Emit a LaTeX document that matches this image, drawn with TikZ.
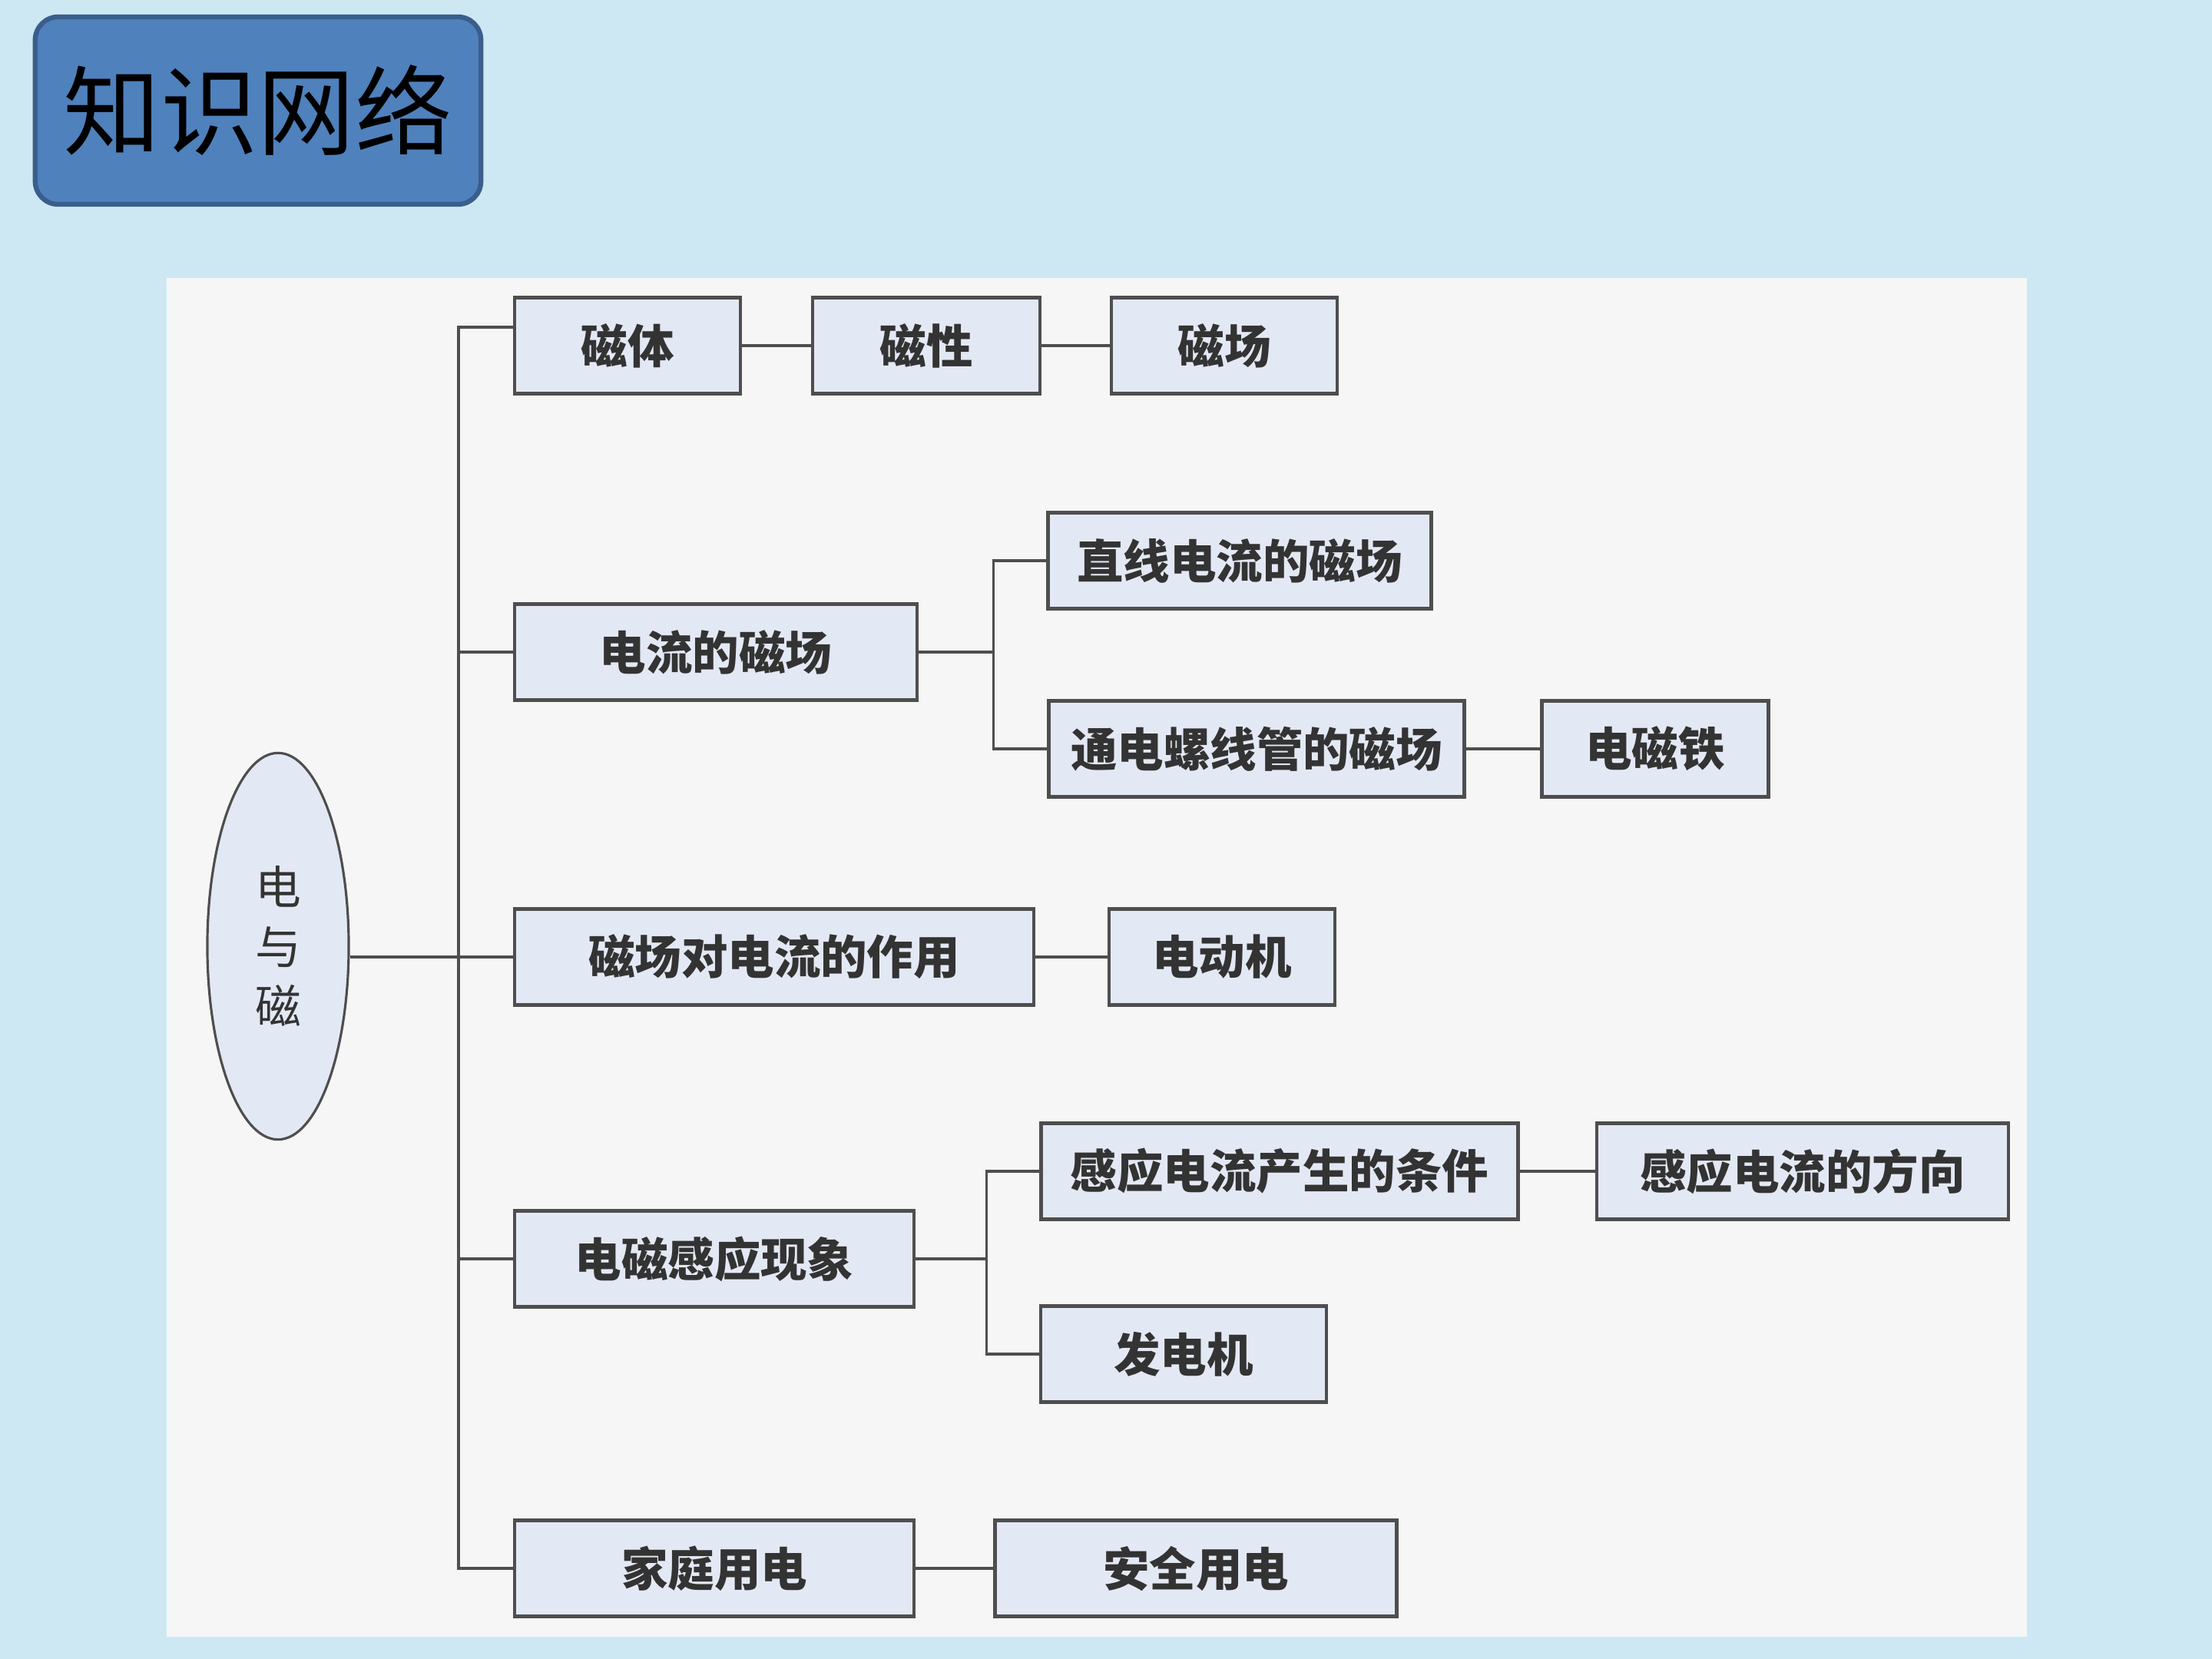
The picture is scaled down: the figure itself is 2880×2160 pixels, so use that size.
\documentclass[tikz,border=0pt]{standalone}
\usepackage{fontspec}
\newfontfamily\cjk{Noto Sans CJK SC}
\usetikzlibrary{shapes.geometric}
\definecolor{bgblue}{HTML}{CDE8F3}
\definecolor{paper}{HTML}{F6F6F6}
\definecolor{titleblue}{HTML}{4F81BD}
\definecolor{titleedge}{HTML}{3A5E8C}
\definecolor{boxfill}{HTML}{E3E9F4}
\definecolor{linegray}{HTML}{4E4E4E}

\tikzset{
  box/.style={draw=linegray, line width=1.3pt, fill=boxfill, minimum height=1.25cm,
    inner sep=0pt, text=black!80, font=\cjk\bfseries\fontsize{17.2}{20}\selectfont},
  link/.style={draw=linegray, line width=0.9pt},
}

\begin{document}
\begin{tikzpicture}[x=0.01cm, y=-0.01cm]
	% background and paper
	\fill[bgblue] (0,0) rectangle (2880,2160);
	\useasboundingbox (0,0) rectangle (2880,2160);
	\fill[paper] (217,362) rectangle (2639,2131);
	% title
	\node[draw=titleedge, line width=1.8pt, fill=titleblue, rounded corners=0.3cm,
		minimum width=5.8cm, minimum height=2.44cm,
		font=\cjk\fontsize{36}{40}\selectfont] (title) at (336,144) {知识网络};
	% root
	\node[ellipse, draw=linegray, line width=0.9pt, fill=boxfill, minimum width=1.84cm,
		minimum height=5.03cm, inner sep=0pt, align=center, text=black!80,
		font=\cjk\fontsize{17}{22}\selectfont] (root) at (362,1232) {电\\与\\磁};
	% first row
	\node[box, minimum width=2.94cm] (citi) at (817,450) {磁体};
	\node[box, minimum width=2.96cm] (cixing) at (1206,450) {磁性};
	\node[box, minimum width=2.94cm] (cichang) at (1594,450) {磁场};
	% current and field
	\node[box, minimum width=5.24cm] (dlcc) at (932,849) {电流的磁场};
	\node[box, minimum width=4.99cm] (zhixian) at (1614,730) {直线电流的磁场};
	\node[box, minimum width=5.41cm] (luoxian) at (1636,975) {通电螺线管的磁场};
	\node[box, minimum width=2.95cm] (dct) at (2155,975) {电磁铁};
	% force on current
	\node[box, minimum width=6.76cm] (zuoyong) at (1008,1246) {磁场对电流的作用};
	\node[box, minimum width=2.94cm] (ddj) at (1591,1246) {电动机};
	% induction
	\node[box, minimum width=5.20cm] (ganying) at (930,1639) {电磁感应现象};
	\node[box, minimum width=6.21cm] (tiaojian) at (1666,1525) {感应电流产生的条件};
	\node[box, minimum width=5.36cm] (fangxiang) at (2347,1525) {感应电流的方向};
	\node[box, minimum width=3.72cm] (fdj) at (1541,1763) {发电机};
	% household
	\node[box, minimum width=5.20cm] (jiating) at (930,2042) {家庭用电};
	\node[box, minimum width=5.23cm] (anquan) at (1557,2042) {安全用电};
	% trunk
	\coordinate (trunktop) at (597,426);
	\draw[link] (citi.west |- trunktop) -- (trunktop) -- (trunktop |- jiating.west) -- (jiating.west);
	\draw[link] (trunktop |- dlcc.west) -- (dlcc.west);
	\draw[link] (root.east |- zuoyong.west) -- (zuoyong.west);
	\draw[link] (trunktop |- ganying.west) -- (ganying.west);
	% branches
	\draw[link] (citi) -- (cixing);
	\draw[link] (cixing) -- (cichang);
	\draw[link] (dlcc.east) -- ++(97,0) |- (zhixian.west);
	\draw[link] (dlcc.east) -- ++(97,0) |- (luoxian.west);
	\draw[link] (luoxian) -- (dct);
	\draw[link] (zuoyong) -- (ddj);
	\draw[link] (ganying.east) -- ++(92,0) |- (tiaojian.west);
	\draw[link] (ganying.east) -- ++(92,0) |- (fdj.west);
	\draw[link] (tiaojian) -- (fangxiang);
	\draw[link] (jiating) -- (anquan);
\end{tikzpicture}
\end{document}
